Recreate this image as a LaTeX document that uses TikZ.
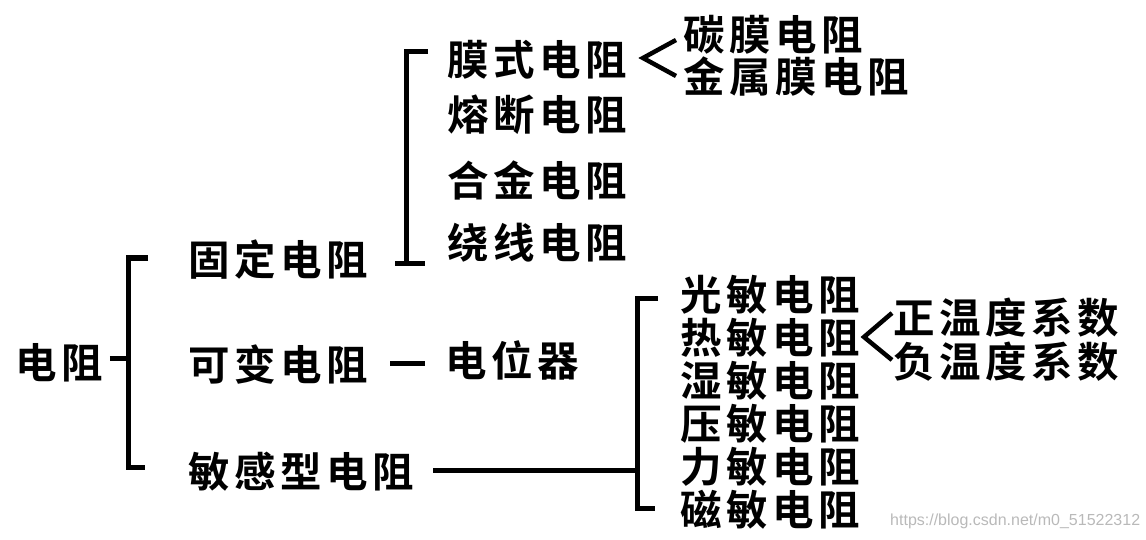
\documentclass[tikz,border=0pt]{standalone}
\usepackage{fontspec}
\newfontfamily\cjk{Noto Sans CJK SC}[UprightFont=* Bold, LetterSpace=11]
\newfontfamily\wm{Liberation Sans}
\begin{document}
\begin{tikzpicture}[x=1pt,y=-1pt,
  t/.style={font=\cjk\fontsize{41.5}{42}\selectfont, inner sep=0pt, anchor=west},
  br/.style={line width=5pt},
  lt/.style={line width=4.5pt}]
\useasboundingbox (0,0) rectangle (1146,540);
% level 0 and 1
\node[t] (root) at (15,363) {电阻};
\node[t] (gd) at (188,260) {固定电阻};
\node[t] (kb) at (188,365) {可变电阻};
\node[t] (mg) at (188,472) {敏感型电阻};
% main bracket
\coordinate (m1) at (148,258);
\coordinate (m2) at (128,258);
\coordinate (m3) at (128,467);
\coordinate (m4) at (145,467);
\coordinate (mt) at (128,358);
\draw[br] (m1) -- (m2) -- (m3) -- (m4);
\draw[br] ([xshift=7pt]root.east |- mt) -- (mt);
% fixed resistors
\node[t] (ms) at (447,60) {膜式电阻};
\node[t] (rd) at (447,115) {熔断电阻};
\node[t] (hj) at (447,180) {合金电阻};
\node[t] (rx) at (447,243) {绕线电阻};
\coordinate (f1) at (428,52);
\coordinate (f2) at (406,52);
\coordinate (f3) at (406,263);
\coordinate (fl) at (395,263);
\coordinate (fr) at (425,263);
\draw[br] (f1) -- (f2) -- (f3);
\draw[br] (fl) -- (fr);
% film resistors
\node[t] (tm) at (683,35) {碳膜电阻};
\node[t] (jsm) at (683,77) {金属膜电阻};
\coordinate (a1) at (643,58);
\draw[lt, line join=miter] ([xshift=-7pt]tm.west |- 0,40) -- (a1) -- ([xshift=-7pt]jsm.west |- 0,76);
% variable
\node[t] (dwq) at (445,360) {电位器};
\draw[br] ([xshift=22pt]kb.east |- 0,363) -- ([xshift=-20pt]dwq.west |- 0,363);
% sensitive
\node[t] (gm) at (680,295) {光敏电阻};
\node[t] (rm) at (680,338) {热敏电阻};
\node[t] (sm) at (680,381) {湿敏电阻};
\node[t] (ym) at (680,424) {压敏电阻};
\node[t] (lm) at (680,467) {力敏电阻};
\node[t] (cm) at (680,510) {磁敏电阻};
\coordinate (s1) at (658,298);
\coordinate (s2) at (637,298);
\coordinate (s3) at (637,508);
\coordinate (s4) at (655,508);
\coordinate (sj) at (637,470);
\draw[br] (s1) -- (s2) -- (s3) -- (s4);
\draw[br] ([xshift=19pt]mg.east |- sj) -- (sj);
% temperature coefficients
\node[t] (zw) at (893,318) {正温度系数};
\node[t] (fw) at (893,362) {负温度系数};
\coordinate (a2) at (864,337);
\draw[lt, line join=miter] (892,313) -- (a2) -- (892,360);
% watermark
\node[font=\wm\fontsize{16}{16}\selectfont, text=gray!55, inner sep=0pt, anchor=west] (wmk) at (890,521) {https://blog.csdn.net/m0\_51522312};
\end{tikzpicture}
\end{document}
